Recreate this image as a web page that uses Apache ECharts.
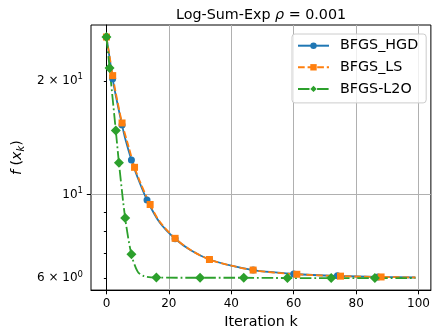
<!DOCTYPE html>
<html>
<head>
<meta charset="utf-8">
<script src="https://cdn.jsdelivr.net/npm/echarts@6/dist/echarts.min.js"></script>
<style>
html,body{margin:0;padding:0;background:#fff;}
#c{width:433px;height:334px;}
</style>
</head>
<body>
<div id="c"></div>
<script>
// ---- data ----
const seriesNames = ['BFGS_HGD', 'BFGS_LS', 'BFGS-L2O'];

const hgdIter   = [0, 1, 2, 3, 5, 6, 8, 10, 13, 17, 22, 27, 33, 40, 47, 54, 60, 74, 87, 99];
const hgdValues = [26.2, 23.1, 20.3, 18.3, 15.3, 14.1, 12.37, 11.1, 9.68, 8.45, 7.64, 7.12, 6.73, 6.48, 6.31, 6.22, 6.16, 6.09, 6.05, 6.03];
const hgdMarked = [0, 2, 5, 8, 13, 22, 33, 47, 60, 74, 87];

const lsIter    = [0, 1, 2, 3, 5, 7, 9, 11, 14, 17, 22, 27, 33, 40, 47, 54, 61, 75, 88, 99];
const lsValues  = [26.2, 23.3, 20.7, 18.6, 15.5, 13.5, 11.82, 10.7, 9.42, 8.5, 7.66, 7.13, 6.73, 6.48, 6.31, 6.21, 6.15, 6.08, 6.05, 6.03];
const lsMarked  = [0, 2, 5, 9, 14, 22, 33, 47, 61, 75, 88];

const l2oIter   = [0, 1, 3, 4, 6, 8, 10, 12, 16, 30, 44, 58, 72, 86, 99];
const l2oValues = [26.2, 21.7, 14.8, 12.15, 8.67, 6.95, 6.25, 6.08, 6.03, 6.02, 6.02, 6.01, 6.01, 6.01, 6.01];
const l2oMarked = [0, 1, 3, 4, 6, 8, 16, 30, 44, 58, 72, 86];

const xTicks = [0, 20, 40, 60, 80, 100];
const yMinorTicks = [6, 7, 8, 9, 20];
const yMinorLabels = [6, 20];
const yMajorTicks = [10];

const xMin = -4.95, xMax = 103.95;
const yMin = 5.583, yMax = 28.2;

// ---- chart ----
const FONT = 'DejaVu Sans';
function buildData(iters, vals, marked) {
  return iters.map((k, i) => {
    const item = { value: [k, vals[i]] };
    if (marked.indexOf(k) < 0) item.symbol = 'none';
    return item;
  });
}
function fmtLabel(v) {
  const e = Math.floor(Math.log10(v) + 1e-9);
  const m = Math.round(v / Math.pow(10, e));
  if (m === 1) return '{n|10}{s|' + e + '}';
  return '{n|' + m + ' × 10}{s|' + e + '}';
}
const labelRich = {
  n: { fontFamily: FONT, fontSize: 12, color: '#000', lineHeight: 17 },
  s: { fontFamily: FONT, fontSize: 8.5, color: '#000', verticalAlign: 'top', lineHeight: 10 }
};

const chart = echarts.init(document.getElementById('c'), null, { renderer: 'canvas' });
const lw = 1.8;
chart.setOption({
  animation: false,
  backgroundColor: '#fff',
  title: {
    text: '{n|Log-Sum-Exp }{i|ρ}{n| = 0.001}',
    left: 171, top: 3,
    textStyle: {
      fontWeight: 'normal',
      rich: {
        n: { fontFamily: FONT, fontSize: 14.3, fontWeight: 'normal', color: '#000' },
        i: { fontFamily: FONT, fontSize: 14.3, fontWeight: 'normal', fontStyle: 'italic', color: '#000' }
      }
    }
  },
  legend: {
    orient: 'vertical',
    left: 292, top: 34,
    itemWidth: 31, itemHeight: 8, itemGap: 7.6,
    padding: [4.7, 8, 7, 5],
    backgroundColor: 'rgba(255,255,255,0.8)',
    borderColor: '#cccccc', borderWidth: 1, borderRadius: 3,
    textStyle: { fontFamily: FONT, fontSize: 14.3, color: '#000', padding: [0, 0, 0, 6], lineHeight: 14 },
    data: seriesNames
  },
  grid: {
    left: 91, right: 1, top: 25, bottom: 40,
    show: true, borderColor: '#000', borderWidth: 1, backgroundColor: 'transparent'
  },
  xAxis: {
    type: 'value', min: xMin, max: xMax,
    name: 'Iteration k', nameLocation: 'middle', nameGap: 24,
    nameTextStyle: { fontFamily: FONT, fontSize: 14.3, color: '#000' },
    axisLine: { show: true, lineStyle: { color: '#000', width: 1 } },
    axisTick: { show: true, length: 4.2, lineStyle: { color: '#000' }, customValues: xTicks },
    axisLabel: { fontFamily: FONT, fontSize: 12, color: '#000', margin: 8, customValues: xTicks },
    splitLine: { show: true, lineStyle: { color: '#b0b0b0', width: 1 } }
  },
  yAxis: [{
    type: 'log', min: yMin, max: yMax, position: 'left',
    name: '{i|f}{n| (}{i|x}{sub|k}{n|)}', nameLocation: 'middle', nameGap: 62, nameRotate: 90,
    nameTextStyle: {
      rich: {
        i: { fontFamily: FONT, fontSize: 14.3, fontStyle: 'italic', color: '#000', lineHeight: 18 },
        n: { fontFamily: FONT, fontSize: 14.3, color: '#000', lineHeight: 18 },
        sub: { fontFamily: FONT, fontSize: 10, fontStyle: 'italic', color: '#000', verticalAlign: 'bottom', lineHeight: 10 }
      }
    },
    axisLine: { show: true, lineStyle: { color: '#000', width: 1 } },
    axisTick: { show: true, length: 2.6, lineStyle: { color: '#000' }, customValues: yMinorTicks },
    axisLabel: { margin: 8, customValues: yMinorLabels, formatter: fmtLabel, rich: labelRich },
    splitLine: { show: false },
    minorTick: { show: false }
  }, {
    type: 'log', min: yMin, max: yMax, position: 'left', offset: 0,
    axisLine: { show: false },
    axisTick: { show: true, length: 4.2, lineStyle: { color: '#000' }, customValues: yMajorTicks },
    axisLabel: { margin: 8, customValues: yMajorTicks, formatter: fmtLabel, rich: labelRich },
    splitLine: { show: true, lineStyle: { color: '#b0b0b0', width: 1 } }
  }],
  series: [{
    name: seriesNames[0], type: 'line', yAxisIndex: 0,
    data: buildData(hgdIter, hgdValues, hgdMarked),
    smooth: 0.3,
    symbol: 'circle', symbolSize: 7, showSymbol: true,
    color: '#1f77b4',
    lineStyle: { color: '#1f77b4', width: lw, type: 'solid' },
    itemStyle: { color: '#1f77b4', borderWidth: 0 }
  }, {
    name: seriesNames[1], type: 'line', yAxisIndex: 0,
    data: buildData(lsIter, lsValues, lsMarked),
    smooth: 0.3,
    symbol: 'rect', symbolSize: 7, showSymbol: true,
    color: '#ff7f0e',
    lineStyle: { color: '#ff7f0e', width: lw, type: [6.7, 2.9] },
    itemStyle: { color: '#ff7f0e', borderWidth: 0 }
  }, {
    name: seriesNames[2], type: 'line', yAxisIndex: 0,
    data: buildData(l2oIter, l2oValues, l2oMarked),
    smooth: 0.3,
    symbol: 'diamond', symbolSize: 10, showSymbol: true,
    color: '#2ca02c',
    lineStyle: { color: '#2ca02c', width: lw, type: [11.5, 2.9, 1.8, 2.9] },
    itemStyle: { color: '#2ca02c', borderWidth: 0 }
  }]
});
</script>
</body>
</html>
